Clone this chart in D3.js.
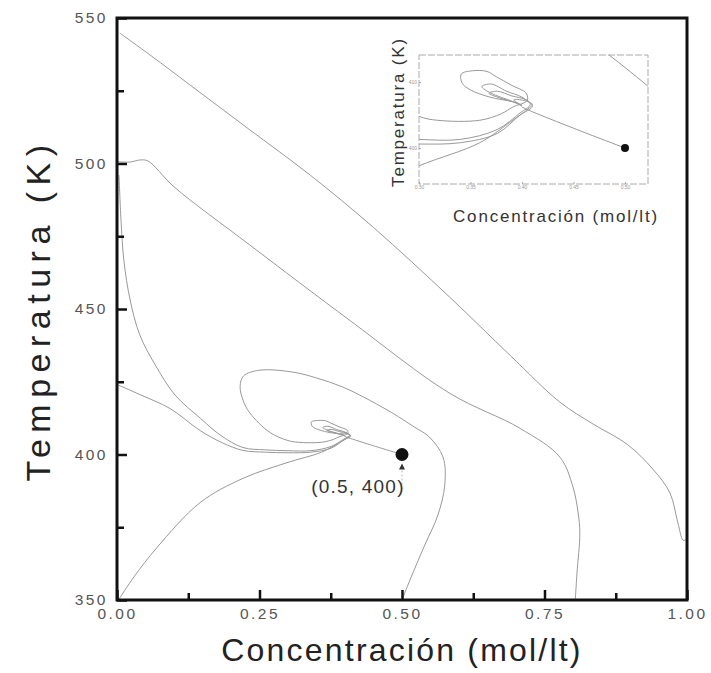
<!DOCTYPE html>
<html><head><meta charset="utf-8">
<script src="https://cdn.jsdelivr.net/npm/d3@7/dist/d3.min.js"></script>
<style>body{margin:0;background:#fff}svg{display:block}</style>
</head><body>
<svg id="chart" width="711" height="673"></svg>
<script>
// ---------- data ----------
const xMajorTicks = [0, 0.25, 0.5, 0.75, 1.0];
const xMinorTicks = [0.125, 0.375, 0.625, 0.875];
const yMajorTicks = [350, 400, 450, 500, 550];
const yMinorTicks = [375, 425, 475, 525];
const xTitle = "Concentración (mol/lt)";
const yTitle = "Temperatura (K)";
const pointLabel = "(0.5, 400)";
const initialPoint = [0.5, 400];

// trajectories [concentration, temperature]
const traj1 = [[0.005,544.8],[0.06,537],[0.128,527],[0.23,512],[0.339,496],[0.45,478],[0.584,454],[0.69,434],[0.777,418],[0.835,410.5],[0.895,403.5],[0.94,395],[0.97,386.8],[0.984,376.5],[0.993,370.6],[0.998,370.6]];
const traj2 = [[0.0,500.6],[0.023,500.5],[0.04,501.2],[0.054,500.9],[0.1,492],[0.233,472],[0.409,446],[0.584,421],[0.707,409],[0.777,399.1],[0.80,388.8],[0.809,379.9],[0.812,373.0],[0.807,359.3],[0.804,350]];
const trajA = [[0.0035,496.0],[0.007,480.6],[0.012,466.8],[0.023,453.1],[0.04,441.1],[0.067,430.8],[0.102,420.4],[0.146,412.5],[0.181,406.7],[0.221,402.4],[0.26,401.6],[0.30,401.3],[0.34,401.3],[0.376,402.8],[0.398,405.3],[0.408,406.6],[0.40,407.7],[0.385,408.6],[0.37,409.7],[0.361,409.3],[0.37,408.3],[0.39,407.1],[0.40,406.4]];
const trajB = [[0.002,423.9],[0.04,420.6],[0.093,415.8],[0.146,408.2],[0.185,404.0],[0.221,401.4],[0.26,400.8],[0.30,400.6],[0.34,400.8],[0.376,402.2],[0.398,405.0],[0.41,406.3],[0.404,407.3],[0.39,407.9],[0.376,408.6],[0.368,408.3],[0.378,407.6],[0.395,406.8],[0.40,406.3]];
const trajC = [[0.0035,350.3],[0.03,358],[0.07,368],[0.146,383.5],[0.221,391.8],[0.30,397.3],[0.359,400.8],[0.391,404.2],[0.405,405.8],[0.41,406.6],[0.402,407.2],[0.392,407.3],[0.398,406.6]];
const trajD = [[0.5,350],[0.514,356.9],[0.54,368.9],[0.563,379.2],[0.575,389.5],[0.572,399.1],[0.548,406],[0.522,409.4],[0.50,412.2],[0.474,415.3],[0.435,419.5],[0.396,423.2],[0.35,426.3],[0.309,428.3],[0.251,429.0],[0.222,427.0],[0.216,423.5],[0.221,418.7],[0.233,414.3],[0.268,407.6],[0.30,404.8],[0.318,404.2],[0.359,404.2],[0.38,405.2],[0.391,406.2],[0.405,407.2],[0.404,408.3],[0.39,409.5],[0.375,410.8],[0.366,411.6],[0.352,411.7],[0.341,411.2],[0.342,409.8],[0.35,408.8],[0.369,407.7],[0.391,407.0],[0.40,406.5]];
const trajE = [[0.5,400],[0.45,403],[0.41,405.5],[0.40,406.2]];
const trajectories = [traj1, traj2, trajA, trajB, trajC, trajD, trajE];

// inset
const insetXTicks = [0.30, 0.35, 0.40, 0.45, 0.50];
const insetYTicks = [400, 410];

// ---------- drawing ----------
const svg = d3.select("#chart");
const font = "'Liberation Sans', Arial, sans-serif";
const L = 117, R = 687, T = 18, B = 600;
const x = d3.scaleLinear().domain([0, 1]).range([L, R]);
const y = d3.scaleLinear().domain([350, 550]).range([B, T]);
const curveColor = "#999";

svg.append("rect").attr("width", 711).attr("height", 673).attr("fill", "#fff");

const line = d3.line().x(d => x(d[0])).y(d => y(d[1])).curve(d3.curveCatmullRom.alpha(0.5));
svg.append("defs").append("clipPath").attr("id", "mainClip")
  .append("rect").attr("x", L).attr("y", T).attr("width", R - L).attr("height", B - T);
const gLines = svg.append("g").attr("clip-path", "url(#mainClip)");
gLines.selectAll("path").data(trajectories).join("path")
  .attr("d", line).attr("fill", "none").attr("stroke", curveColor).attr("stroke-width", 1);

// initial point + arrow + label
svg.append("circle").attr("cx", x(initialPoint[0])).attr("cy", y(initialPoint[1])).attr("r", 6.5).attr("fill", "#111");
const ax = x(initialPoint[0]), ay = y(initialPoint[1]);
svg.append("path").attr("d", `M${ax},${ay + 9} L${ax - 3},${ay + 15} L${ax + 3},${ay + 15} Z`).attr("fill", "#333");
svg.append("line").attr("x1", ax).attr("x2", ax).attr("y1", ay + 16).attr("y2", ay + 30)
  .attr("stroke", "#bbb").attr("stroke-width", 1).attr("stroke-dasharray", "2,2");
svg.append("text").attr("x", 358).attr("y", 493).attr("text-anchor", "middle")
  .attr("font-family", font).attr("font-size", 19).attr("fill", "#333").attr("letter-spacing", 1.2).text(pointLabel);

// axes
const xAxis = svg.append("g").attr("transform", `translate(0,${B})`)
  .call(d3.axisBottom(x).tickValues(xMajorTicks).tickSize(-10).tickPadding(8).tickFormat(d3.format(".2f")));
const xAxisMinor = svg.append("g").attr("transform", `translate(0,${B})`)
  .call(d3.axisBottom(x).tickValues(xMinorTicks).tickSize(-7).tickFormat(""));
const yAxis = svg.append("g").attr("transform", `translate(${L},0)`)
  .call(d3.axisLeft(y).tickValues(yMajorTicks).tickSize(-10).tickPadding(9).tickFormat(d3.format("d")));
const yAxisMinor = svg.append("g").attr("transform", `translate(${L},0)`)
  .call(d3.axisLeft(y).tickValues(yMinorTicks).tickSize(-7).tickFormat(""));
[xAxis, xAxisMinor, yAxis, yAxisMinor].forEach(g => {
  g.select(".domain").remove();
  g.selectAll(".tick line").attr("stroke", "#111").attr("stroke-width", 2.5);
  g.selectAll(".tick text").attr("font-family", font).attr("font-size", 15.5).attr("fill", "#555").attr("letter-spacing", 2.5);
});

// frame
svg.append("rect").attr("x", L).attr("y", T).attr("width", R - L).attr("height", B - T)
  .attr("fill", "none").attr("stroke", "#111").attr("stroke-width", 3);

// titles
svg.append("text").attr("x", 402).attr("y", 661).attr("text-anchor", "middle")
  .attr("font-family", font).attr("font-size", 32).attr("fill", "#222").attr("letter-spacing", 2.2).text(xTitle);
svg.append("text").attr("transform", "translate(50,310) rotate(-90)").attr("text-anchor", "middle")
  .attr("font-family", font).attr("font-size", 34).attr("fill", "#222").attr("letter-spacing", 6.5).text(yTitle);

// ---------- inset ----------
const iL = 419, iR = 648, iT = 55, iB = 184;
const ix = d3.scaleLinear().domain([0.30, 0.50]).range([419, 625]);
const iy = d3.scaleLinear().domain([400, 410]).range([148, 82]);
svg.append("rect").attr("x", iL).attr("y", iT).attr("width", iR - iL).attr("height", iB - iT).attr("fill", "#fff");
svg.select("defs").append("clipPath").attr("id", "insetClip")
  .append("rect").attr("x", iL).attr("y", iT).attr("width", iR - iL).attr("height", iB - iT);
const iline = d3.line().x(d => ix(d[0])).y(d => iy(d[1])).curve(d3.curveCatmullRom.alpha(0.5));
svg.append("g").attr("clip-path", "url(#insetClip)")
  .selectAll("path").data(trajectories).join("path")
  .attr("d", iline).attr("fill", "none").attr("stroke", curveColor).attr("stroke-width", 1);
svg.append("circle").attr("cx", ix(initialPoint[0])).attr("cy", iy(initialPoint[1])).attr("r", 4).attr("fill", "#111");
svg.append("rect").attr("x", iL).attr("y", iT).attr("width", iR - iL).attr("height", iB - iT)
  .attr("fill", "none").attr("stroke", "#aaa").attr("stroke-width", 1).attr("stroke-dasharray", "7,2");
const ixAxis = svg.append("g").attr("transform", `translate(0,${iB})`)
  .call(d3.axisBottom(ix).tickValues(insetXTicks).tickSize(-2).tickPadding(1).tickFormat(d3.format(".2f")));
const iyAxis = svg.append("g").attr("transform", `translate(${iL},0)`)
  .call(d3.axisLeft(iy).tickValues(insetYTicks).tickSize(-2).tickPadding(2).tickFormat(d3.format("d")));
[ixAxis, iyAxis].forEach(g => {
  g.select(".domain").remove();
  g.selectAll(".tick line").attr("stroke", "#aaa");
  g.selectAll(".tick text").attr("font-family", font).attr("font-size", 5).attr("fill", "#999");
});
svg.append("text").attr("x", 556).attr("y", 222).attr("text-anchor", "middle")
  .attr("font-family", font).attr("font-size", 17).attr("fill", "#333").attr("letter-spacing", 1.8).text(xTitle);
svg.append("text").attr("transform", "translate(404,112) rotate(-90)").attr("text-anchor", "middle")
  .attr("font-family", font).attr("font-size", 17).attr("fill", "#333").attr("letter-spacing", 1.8).text(yTitle);
</script>
</body></html>
